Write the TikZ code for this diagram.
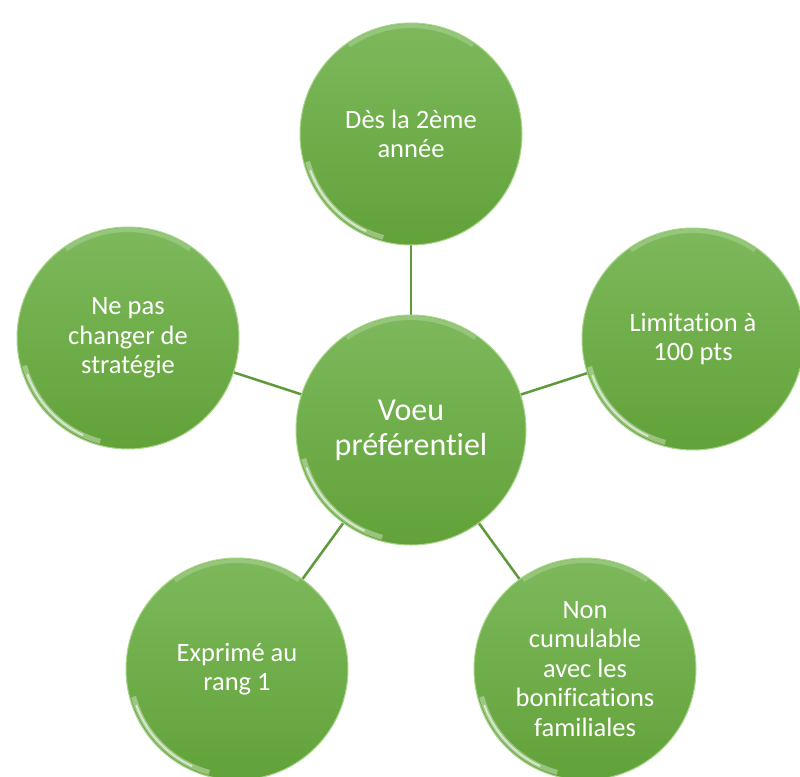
\documentclass[tikz,border=0pt]{standalone}
\usepackage{fontspec}
\setmainfont{Carlito}[Ligatures=NoCommon]
\definecolor{gtop}{HTML}{7DB95C}
\definecolor{gbot}{HTML}{62A239}
\definecolor{grim}{HTML}{A9D68C}
\definecolor{gline}{HTML}{5E9A3B}
\begin{document}
\begin{tikzpicture}[x=1pt,y=1pt,
  bubble/.style={circle, inner sep=0pt, top color=gtop, bottom color=gbot,
    draw=grim, line width=1pt, text=white, align=center,
    minimum size=2*#1,
    path picture={
      \draw[white, opacity=0.35, line width=5pt]
        (path picture bounding box.center) ++(195:#1-4) arc (195:255:#1-4);
      \draw[white, opacity=0.6, line width=2pt, line cap=round]
        (path picture bounding box.center) ++(200:#1-4) arc (200:245:#1-4);
      \draw[white, opacity=0.2, line width=4pt]
        (path picture bounding box.center) ++(55:#1-3) arc (55:125:#1-3);
    }},
  leaf/.style={bubble=111, font=\fontsize{26.5}{29.5}\selectfont},
  hub/.style={bubble=115, font=\fontsize{32}{35}\selectfont},
  link/.style={draw=gline, line width=2.5pt}]
\useasboundingbox (0,0) rectangle (800,-776);
\fill[white] (0,0) rectangle (800,-776);
\coordinate (cc) at (411,-430);
\coordinate (pt) at (411,-134);
\coordinate (pr) at (693,-339);
\coordinate (pbr) at (585,-669);
\coordinate (pbl) at (237,-669);
\coordinate (pl) at (128,-338);
\draw[link] (cc) -- (pt);
\draw[link] (cc) -- (pr);
\draw[link] (cc) -- (pbr);
\draw[link] (cc) -- (pbl);
\draw[link] (cc) -- (pl);
\node[hub] (c) at (cc) {Voeu\\préférentiel};
\node[leaf] (t) at (pt) {Dès la 2ème\\année};
\node[leaf] (r) at (pr) {Limitation à\\100 pts};
\node[leaf] (br) at (pbr) {Non\\cumulable\\avec les\\bonifications\\familiales};
\node[leaf] (bl) at (pbl) {Exprimé au\\rang 1};
\node[leaf] (l) at (pl) {Ne pas\\changer de\\stratégie};
\end{tikzpicture}
\end{document}
